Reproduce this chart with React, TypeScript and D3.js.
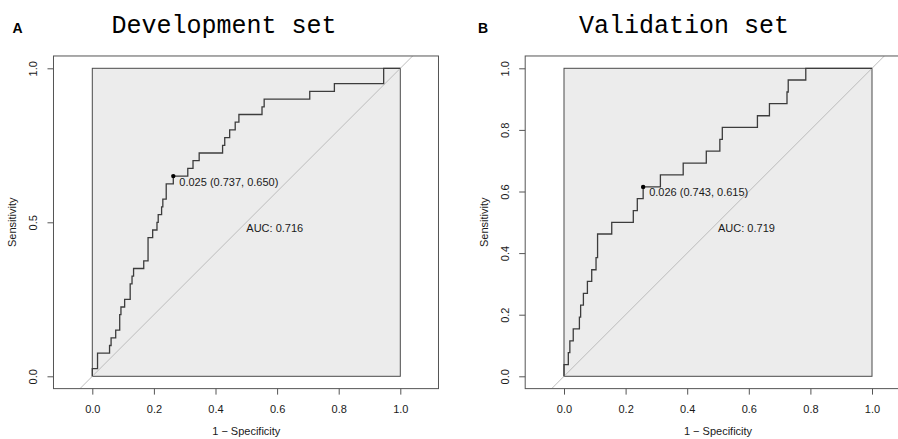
import React, { useRef, useEffect } from 'react';
import * as d3 from 'd3';

// ROC steps (1 - specificity, sensitivity)
const devFpr = [0, 0, 0.017, 0.056, 0.061, 0.076, 0.089, 0.093, 0.105, 0.123, 0.129, 0.134, 0.167, 0.181, 0.196, 0.21, 0.214, 0.225, 0.229, 0.24, 0.263, 0.31, 0.327, 0.347, 0.423, 0.43, 0.446, 0.464, 0.476, 0.551, 0.558, 0.706, 0.786, 0.946, 1];
const devTpr = [0, 0.025, 0.075, 0.1, 0.125, 0.15, 0.2, 0.225, 0.25, 0.3, 0.325, 0.35, 0.375, 0.45, 0.475, 0.5, 0.525, 0.55, 0.575, 0.625, 0.65, 0.675, 0.7, 0.725, 0.75, 0.775, 0.8, 0.825, 0.85, 0.875, 0.9, 0.925, 0.95, 1, 1];
const devBest = [0.263, 0.65];

const valFpr = [0, 0, 0.014, 0.019, 0.03, 0.05, 0.054, 0.063, 0.076, 0.09, 0.104, 0.109, 0.155, 0.225, 0.238, 0.257, 0.313, 0.387, 0.462, 0.506, 0.514, 0.628, 0.667, 0.724, 0.728, 0.785, 1];
const valTpr = [0, 0.038, 0.077, 0.115, 0.154, 0.192, 0.231, 0.269, 0.308, 0.346, 0.385, 0.462, 0.5, 0.538, 0.577, 0.615, 0.654, 0.692, 0.731, 0.769, 0.808, 0.846, 0.885, 0.923, 0.962, 1, 1];
const valBest = [0.257, 0.615];

const xTicks = [0, 0.2, 0.4, 0.6, 0.8, 1];
const devYTicks = [0, 0.5, 1];
const valYTicks = [0, 0.2, 0.4, 0.6, 0.8, 1];

const titles = ['Development set', 'Validation set'];
const letters = ['A', 'B'];
const bestLabels = ['0.025 (0.737, 0.650)', '0.026 (0.743, 0.615)'];
const aucLabels = ['AUC: 0.716', 'AUC: 0.719'];

const sans = 'Liberation Sans, Arial, sans-serif';

const App = () => {
    const svgRef = useRef(null);

    useEffect(() => {
        const svg = d3.select(svgRef.current);
        svg.selectAll('*').remove();

        const panels = [
            { x0: 92.3, fpr: devFpr, tpr: devTpr, best: devBest, yTicks: devYTicks, titleX: 224, letterX: 12.5 },
            { x0: 564, fpr: valFpr, tpr: valTpr, best: valBest, yTicks: valYTicks, titleX: 684, letterX: 478 },
        ];

        panels.forEach((p, i) => {
            const x = d3.scaleLinear().domain([0, 1]).range([p.x0, p.x0 + 308]);
            const y = d3.scaleLinear().domain([0, 1]).range([376.3, 68.3]);
            const g = svg.append('g');

            const bx0 = x(-0.126), bx1 = x(1.124), by0 = y(-0.04), by1 = y(1.04);

            g.append('clipPath').attr('id', 'clip' + i)
                .append('rect').attr('x', bx0).attr('y', by1).attr('width', bx1 - bx0).attr('height', by0 - by1);

            // grey max-auc square
            g.append('rect')
                .attr('x', x(0)).attr('y', y(1))
                .attr('width', x(1) - x(0)).attr('height', y(0) - y(1))
                .attr('fill', '#ececec').attr('stroke', '#4a4a4a').attr('stroke-width', 1);

            // chance line
            g.append('line')
                .attr('clip-path', `url(#clip${i})`)
                .attr('x1', x(-0.2)).attr('y1', y(-0.2)).attr('x2', x(1.2)).attr('y2', y(1.2))
                .attr('stroke', '#bdbdbd').attr('stroke-width', 1);

            const pts = p.fpr.map((f, k) => [f, p.tpr[k]]);
            const line = d3.line().x(d => x(d[0])).y(d => y(d[1])).curve(d3.curveStepAfter);
            g.append('path').attr('d', line(pts))
                .attr('fill', 'none').attr('stroke', '#3c3c3c').attr('stroke-width', 1.3);

            // outer frame
            g.append('rect')
                .attr('x', bx0).attr('y', by1).attr('width', bx1 - bx0).attr('height', by0 - by1)
                .attr('fill', 'none').attr('stroke', '#555').attr('stroke-width', 1);

            // best threshold
            g.append('circle').attr('cx', x(p.best[0])).attr('cy', y(p.best[1])).attr('r', 2.2).attr('fill', '#000');
            g.append('text').attr('x', x(p.best[0]) + 6).attr('y', y(p.best[1]) + 9.5)
                .attr('font-family', sans).attr('font-size', 11).attr('fill', '#1a1a1a').text(bestLabels[i]);

            g.append('text').attr('x', x(0.5)).attr('y', y(0.5) + 9.5)
                .attr('font-family', sans).attr('font-size', 11).attr('fill', '#1a1a1a').text(aucLabels[i]);

            // x axis
            const xAxis = d3.axisBottom(x).tickValues(xTicks).tickSize(6).tickPadding(11).tickFormat(d3.format('.1f'));
            const xa = g.append('g').attr('transform', `translate(0,${by0})`).call(xAxis);
            xa.select('.domain').remove();
            xa.selectAll('line').attr('stroke', '#555');
            xa.selectAll('text').attr('font-family', sans).attr('font-size', 11).attr('fill', '#1a1a1a');

            // y axis, labels turned like R's las=0
            const yAxis = d3.axisLeft(y).tickValues(p.yTicks).tickSize(6).tickFormat(d3.format('.1f'));
            const ya = g.append('g').attr('transform', `translate(${bx0},0)`).call(yAxis);
            ya.select('.domain').remove();
            ya.selectAll('line').attr('stroke', '#555');
            ya.selectAll('text')
                .attr('x', null).attr('dy', null)
                .attr('transform', 'translate(-16.5,0) rotate(-90)')
                .attr('text-anchor', 'middle')
                .attr('font-family', sans).attr('font-size', 11).attr('fill', '#1a1a1a');

            g.append('text').attr('transform', `translate(${bx0 - 37.5},${(y(0) + y(1)) / 2}) rotate(-90)`)
                .attr('text-anchor', 'middle').attr('font-family', sans).attr('font-size', 11).attr('fill', '#1a1a1a')
                .text('Sensitivity');
            g.append('text').attr('x', (x(0) + x(1)) / 2).attr('y', 435)
                .attr('text-anchor', 'middle').attr('font-family', sans).attr('font-size', 11).attr('fill', '#1a1a1a')
                .text('1 \u2212 Specificity');

            g.append('text').attr('x', p.titleX).attr('y', 33).attr('text-anchor', 'middle')
                .attr('font-family', 'Liberation Mono, monospace').attr('font-size', 25).attr('fill', '#000')
                .text(titles[i]);
            g.append('text').attr('x', p.letterX).attr('y', 32.5)
                .attr('font-family', sans).attr('font-size', 14).attr('font-weight', 'bold').attr('fill', '#000')
                .text(letters[i]);
        });
    }, []);

    return (
        <div style={{ position: 'absolute', left: 0, top: 0 }}>
            <svg ref={svgRef} width={898} height={439} style={{ display: 'block', background: '#fff' }}></svg>
        </div>
    );
};

export default App;
